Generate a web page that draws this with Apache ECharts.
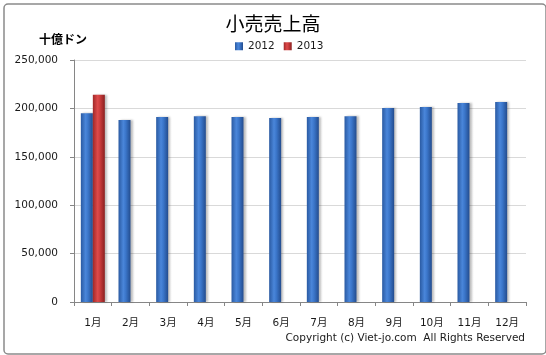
<!DOCTYPE html>
<html><head><meta charset="utf-8">
<script src="https://cdn.jsdelivr.net/npm/echarts@6/dist/echarts.min.js"></script>
<style>html,body{margin:0;padding:0;background:#fff}#c{width:546px;height:355px}</style>
</head><body><div id="c"></div>
<script>
const title = '小売売上高';
const unitLabel = '十億ドン';
const copyright = 'Copyright (c) Viet-jo.com  All Rights Reserved';
const categories = ['1月','2月','3月','4月','5月','6月','7月','8月','9月','10月','11月','12月'];
const seriesNames = ['2012','2013'];
const values2012 = [195000, 188000, 191000, 192000, 191000, 190000, 191000, 192000, 200500, 201500, 205500, 206500];
const values2013 = [214000, null, null, null, null, null, null, null, null, null, null, null];

const FONT = '"DejaVu Sans","Noto Sans CJK JP",sans-serif';
const blue = new echarts.graphic.LinearGradient(0,0,1,0,[
  {offset:0,color:'#2a5aa2'},{offset:0.4,color:'#4a86da'},{offset:0.6,color:'#3b76ca'},{offset:1,color:'#234c8e'}]);
const red = new echarts.graphic.LinearGradient(0,0,1,0,[
  {offset:0,color:'#a02828'},{offset:0.4,color:'#de4a4a'},{offset:0.6,color:'#ca3c3c'},{offset:1,color:'#8a2020'}]);

const chart = echarts.init(document.getElementById('c'), null, {renderer:'canvas'});
chart.setOption({
  animation:false,
  backgroundColor:'#fff',
  title:{text:title,left:'center',top:9,textStyle:{fontFamily:'"Noto Sans CJK JP",sans-serif',fontSize:19,fontWeight:'normal',color:'#000'}},
  legend:{left:235,top:41,padding:0,itemWidth:8,itemHeight:8,itemGap:9,
    textStyle:{fontFamily:FONT,fontSize:10.5,color:'#1a1a1a'},
    data:[{name:seriesNames[0],icon:'rect'},{name:seriesNames[1],icon:'rect'}]},
  grid:{left:74,right:20,top:60,bottom:53,containLabel:false},
  xAxis:{type:'category',data:categories,
    axisLine:{lineStyle:{color:'#868686',width:1}},
    axisTick:{show:true,length:4,lineStyle:{color:'#868686'}},
    axisLabel:{fontFamily:FONT,fontSize:10.5,color:'#1a1a1a',margin:16}},
  yAxis:{type:'value',min:0,max:250000,interval:50000,
    axisLine:{show:true,lineStyle:{color:'#868686',width:1}},
    axisTick:{show:true,length:4,lineStyle:{color:'#868686'}},
    splitLine:{lineStyle:{color:'#d9d9d9',width:1}},
    axisLabel:{fontFamily:FONT,fontSize:10.5,color:'#1a1a1a',margin:16,
      formatter:v=>v.toLocaleString('en-US')}},
  series:[
    {name:seriesNames[0],type:'bar',data:values2012,barWidth:12,barGap:'0%',
      itemStyle:{color:blue,shadowColor:'rgba(0,0,0,0.25)',shadowBlur:2,shadowOffsetX:2}},
    {name:seriesNames[1],type:'bar',data:values2013,barWidth:12,barGap:'0%',
      itemStyle:{color:red,shadowColor:'rgba(0,0,0,0.25)',shadowBlur:2,shadowOffsetX:2}}
  ],
  graphic:[
    {type:'rect',left:1.5,top:1.5,shape:{width:542,height:350,r:4},silent:true,z:-1,
      style:{fill:null,stroke:'#8a8a8a',lineWidth:1.5}},
    {type:'text',left:39,top:33,style:{text:unitLabel,font:'bold 12px "Noto Sans CJK JP",sans-serif',fill:'#000'}},
    {type:'text',right:21,top:333,style:{text:copyright,font:'10.5px "DejaVu Sans",sans-serif',fill:'#1a1a1a'}}
  ]
});
</script></body></html>
